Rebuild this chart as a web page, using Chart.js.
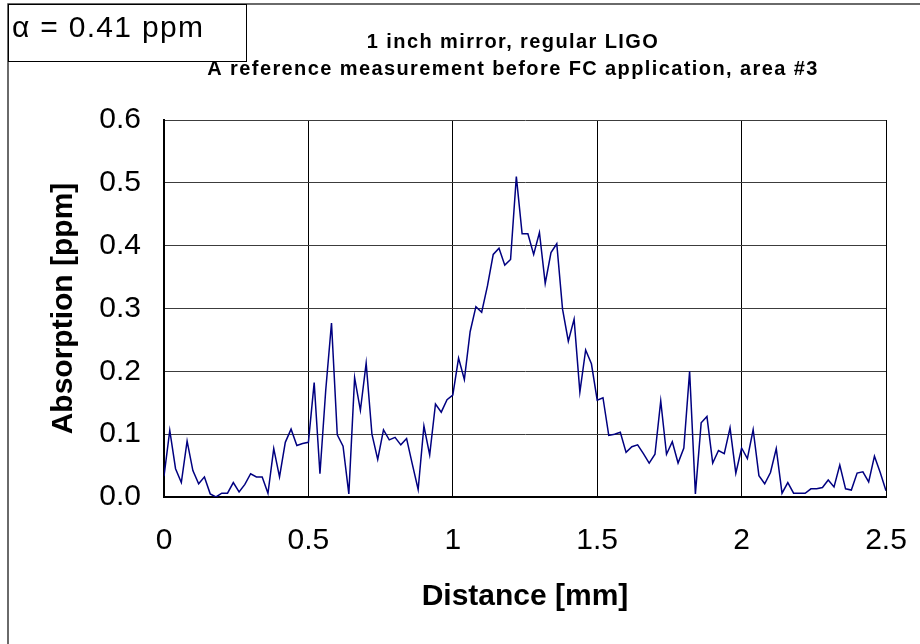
<!DOCTYPE html>
<html>
<head>
<meta charset="utf-8">
<title>Absorption scan, area #3</title>
<script src="https://cdn.jsdelivr.net/npm/chart.js@4.4.1/dist/chart.umd.min.js"></script>
<style>
  html, body { margin: 0; padding: 0; background: #fff; }
  #absChart { display: block; }
</style>
</head>
<body>
<canvas id="absChart" width="920" height="644"></canvas>
<script>
const FONT = 'Arial, "Liberation Sans", Helvetica, sans-serif';

// scan positions along the mirror, mm
const distanceMm = [
  0.00, 0.02, 0.04, 0.06, 0.08, 0.10, 0.12, 0.14, 0.16, 0.18,
  0.20, 0.22, 0.24, 0.26, 0.28, 0.30, 0.32, 0.34, 0.36, 0.38,
  0.40, 0.42, 0.44, 0.46, 0.48, 0.50, 0.52, 0.54, 0.56, 0.58,
  0.60, 0.62, 0.64, 0.66, 0.68, 0.70, 0.72, 0.74, 0.76, 0.78,
  0.80, 0.82, 0.84, 0.86, 0.88, 0.90, 0.92, 0.94, 0.96, 0.98,
  1.00, 1.02, 1.04, 1.06, 1.08, 1.10, 1.12, 1.14, 1.16, 1.18,
  1.20, 1.22, 1.24, 1.26, 1.28, 1.30, 1.32, 1.34, 1.36, 1.38,
  1.40, 1.42, 1.44, 1.46, 1.48, 1.50, 1.52, 1.54, 1.56, 1.58,
  1.60, 1.62, 1.64, 1.66, 1.68, 1.70, 1.72, 1.74, 1.76, 1.78,
  1.80, 1.82, 1.84, 1.86, 1.88, 1.90, 1.92, 1.94, 1.96, 1.98,
  2.00, 2.02, 2.04, 2.06, 2.08, 2.10, 2.12, 2.14, 2.16, 2.18,
  2.20, 2.22, 2.24, 2.26, 2.28, 2.30, 2.32, 2.34, 2.36, 2.38,
  2.40, 2.42, 2.44, 2.46, 2.48, 2.50
];

// absorption, ppm
const absorptionPpm = [
  0.033, 0.106, 0.045, 0.023, 0.089, 0.042, 0.021, 0.032, 0.005, 0.000,
  0.006, 0.006, 0.023, 0.008, 0.020, 0.037, 0.032, 0.032, 0.006, 0.077,
  0.032, 0.087, 0.108, 0.082, 0.085, 0.087, 0.182, 0.037, 0.170, 0.277,
  0.099, 0.081, 0.005, 0.190, 0.138, 0.213, 0.100, 0.060, 0.107, 0.091,
  0.095, 0.083, 0.093, 0.052, 0.012, 0.113, 0.067, 0.148, 0.135, 0.155,
  0.162, 0.221, 0.187, 0.263, 0.303, 0.294, 0.336, 0.386, 0.396, 0.369,
  0.378, 0.510, 0.419, 0.419, 0.386, 0.421, 0.340, 0.389, 0.403, 0.299,
  0.248, 0.283, 0.167, 0.234, 0.212, 0.154, 0.158, 0.098, 0.100, 0.103,
  0.071, 0.080, 0.083, 0.069, 0.054, 0.068, 0.153, 0.068, 0.088, 0.054,
  0.078, 0.200, 0.005, 0.118, 0.128, 0.054, 0.074, 0.069, 0.110, 0.038,
  0.078, 0.061, 0.107, 0.034, 0.021, 0.039, 0.077, 0.006, 0.023, 0.006,
  0.006, 0.006, 0.013, 0.013, 0.015, 0.027, 0.016, 0.051, 0.013, 0.011,
  0.038, 0.040, 0.024, 0.065, 0.039, 0.010
];

const xTickValues = [0, 0.5, 1, 1.5, 2, 2.5];
const yTickValues = [0, 0.1, 0.2, 0.3, 0.4, 0.5, 0.6];

const titleLines = [
  '1 inch mirror, regular LIGO',
  'A reference measurement before FC application, area #3'
];
const alphaLabel = 'α = 0.41 ppm';

// outer frame, alpha box and the two title lines (Excel-style spaced text)
const frameAndTitles = {
  id: 'frameAndTitles',
  afterDraw(chart) {
    const ctx = chart.ctx;
    ctx.save();
    ctx.strokeStyle = '#3a3a3a';
    ctx.lineWidth = 1.5;
    ctx.beginPath();
    ctx.moveTo(8, 644);
    ctx.lineTo(8, 4);
    ctx.lineTo(920, 4);
    ctx.stroke();

    ctx.strokeStyle = '#000';
    ctx.lineWidth = 1;
    ctx.strokeRect(8.5, 4.5, 238, 57);

    ctx.fillStyle = '#000';
    ctx.textBaseline = 'alphabetic';
    ctx.font = `30px ${FONT}`;
    ctx.letterSpacing = '1.3px';
    ctx.textAlign = 'left';
    ctx.fillText(alphaLabel, 12, 37);

    ctx.font = `bold 20px ${FONT}`;
    ctx.letterSpacing = '1.4px';
    ctx.textAlign = 'center';
    ctx.fillText(titleLines[0], 513, 48);
    ctx.fillText(titleLines[1], 513, 75);
    ctx.restore();
  }
};

const points = distanceMm.map((x, i) => ({ x, y: absorptionPpm[i] }));

new Chart(document.getElementById('absChart'), {
  type: 'line',
  data: {
    datasets: [{
      label: 'Absorption',
      data: points,
      borderColor: '#000080',
      borderWidth: 1.5,
      pointRadius: 0,
      tension: 0,
      fill: false,
    }],
  },
  plugins: [frameAndTitles],
  options: {
    responsive: false,
    animation: false,
    layout: { padding: { top: 120, right: 34, bottom: 0, left: 0 } },
    plugins: {
      legend: { display: false },
      tooltip: { enabled: false },
    },
    scales: {
      x: {
        type: 'linear',
        min: 0,
        max: 2.5,
        afterBuildTicks(scale) { scale.ticks = xTickValues.map(v => ({ value: v })); },
        afterFit(scale) {
          scale.height = 147;
          scale.paddingLeft = 0;
          scale.paddingRight = 0;
        },
        ticks: {
          color: '#000',
          font: { family: FONT, size: 30 },
          padding: 26,
          maxRotation: 0,
          autoSkip: false,
          callback(value) { return String(value); },
        },
        grid: { color: '#000', lineWidth: 1, drawTicks: false },
        border: { color: '#000', width: 2 },
        title: {
          display: true,
          text: 'Distance [mm]',
          color: '#000',
          font: { family: FONT, size: 30, weight: 'bold', lineHeight: 1 },
          padding: { top: 0, bottom: 32 },
        },
      },
      y: {
        min: 0,
        max: 0.6,
        afterBuildTicks(scale) { scale.ticks = yTickValues.map(v => ({ value: v })); },
        afterFit(scale) {
          scale.width = 164;
          scale.paddingTop = 0;
          scale.paddingBottom = 0;
        },
        ticks: {
          color: '#000',
          font: { family: FONT, size: 30 },
          padding: 23,
          autoSkip: false,
          callback(value) { return Number(value).toFixed(1); },
        },
        grid: { color: '#3c3c3c', lineWidth: 1, drawTicks: false },
        border: { color: '#000', width: 2 },
        title: {
          display: true,
          text: 'Absorption [ppm]',
          color: '#000',
          font: { family: FONT, size: 30, weight: 'bold', lineHeight: 1 },
          padding: { top: 49, bottom: 0 },
        },
      },
    },
  },
});
</script>
</body>
</html>
